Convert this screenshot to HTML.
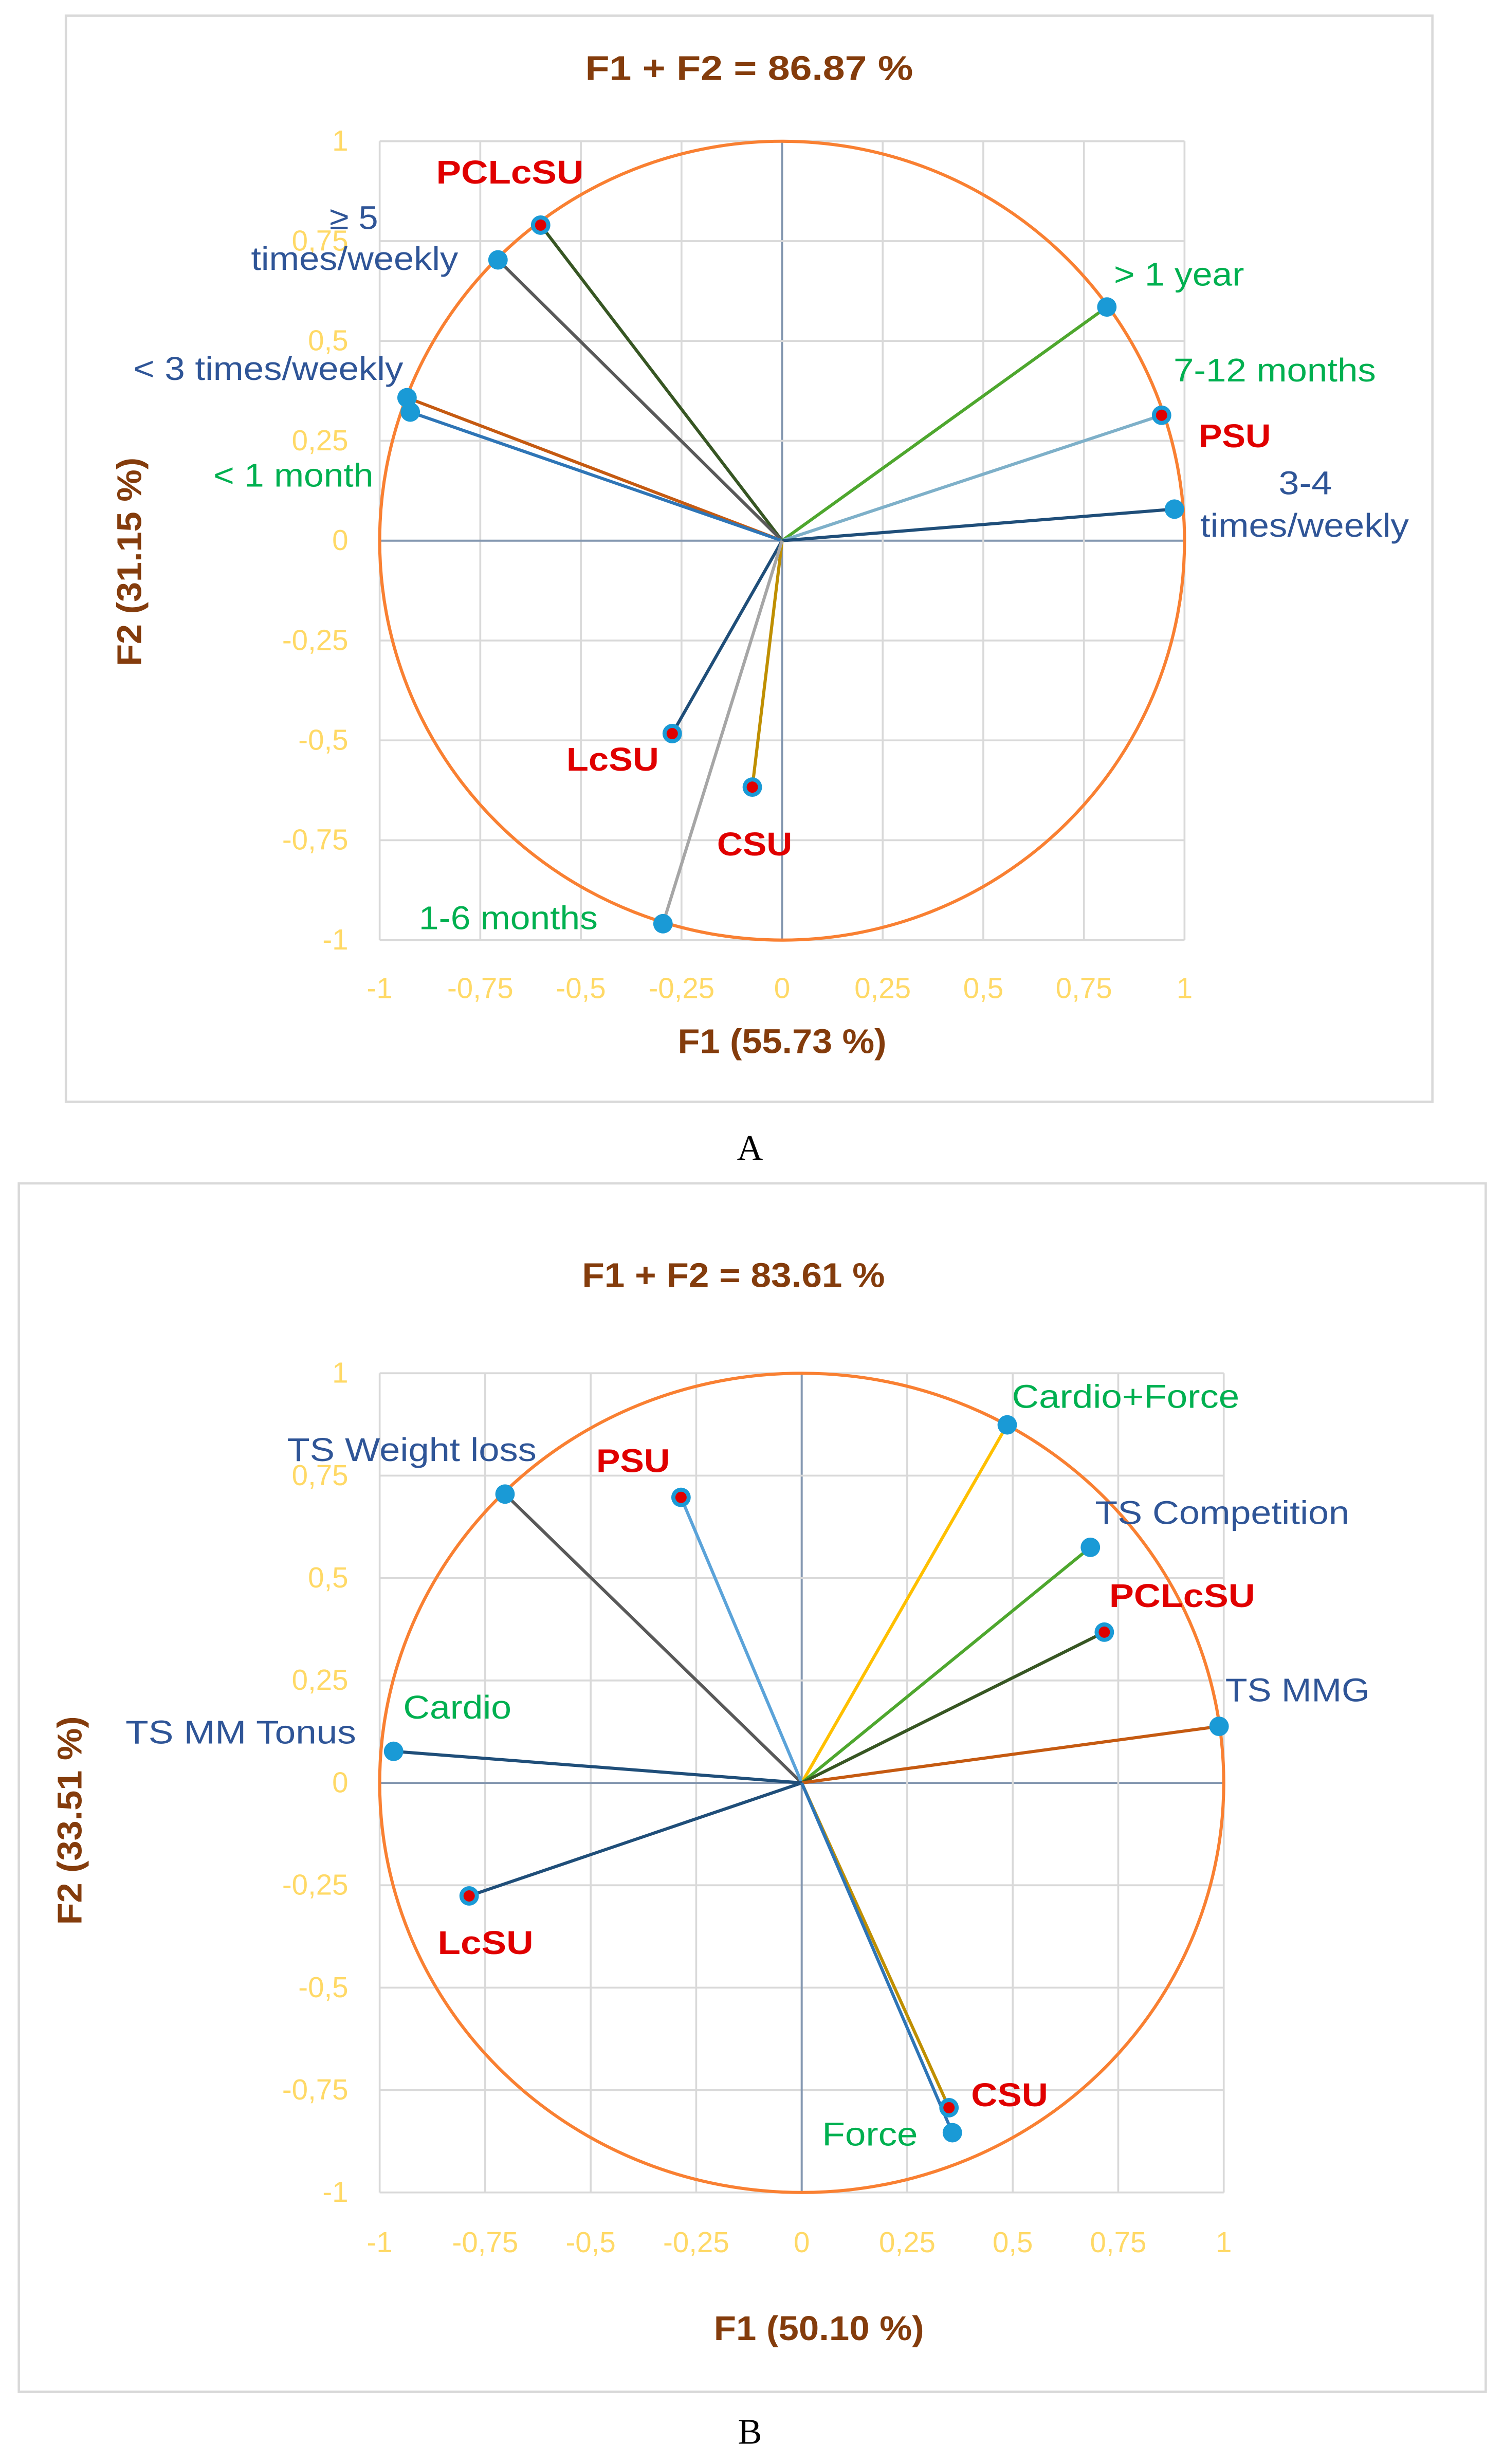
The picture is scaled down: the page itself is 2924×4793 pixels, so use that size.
<!DOCTYPE html>
<html><head><meta charset="utf-8">
<style>
html,body{margin:0;padding:0;background:#fff;}
svg{display:block;}
text{font-family:"Liberation Sans",sans-serif;}
</style></head>
<body>
<svg id="fig" width="2924" height="4793" viewBox="0 0 958 1570" preserveAspectRatio="none" xmlns="http://www.w3.org/2000/svg">
<rect x="0" y="0" width="958" height="1570" fill="#fff"/>
</svg>
<script>
// ---------- Chart A data ----------
const aNames = ["PCLcSU", "≥5 times/weekly", "<3 times/weekly", "<1 month", ">1 year", "PSU/7-12 months", "3-4 times/weekly", "LcSU", "CSU", "1-6 months"];
const aF1 = [-0.60, -0.706, -0.932, -0.924, 0.807, 0.943, 0.975, -0.273, -0.074, -0.296];
const aF2 = [0.79, 0.703, 0.358, 0.322, 0.585, 0.314, 0.079, -0.483, -0.617, -0.959];
const aRed = [1, 0, 0, 0, 0, 1, 0, 1, 1, 0];
const aLineColors = ["#375623", "#595959", "#c55a11", "#2e75b6", "#4ea72e", "#7eb0c9", "#1f4e79", "#1f4e79", "#bf8f00", "#a6a6a6"];
// ---------- Chart B data ----------
const bNames = ["Cardio+Force", "TS Weight loss", "PSU", "TS Competition", "PCLcSU", "TS MMG", "TS MM Tonus/Cardio", "LcSU", "CSU", "Force"];
const bF1 = [0.487, -0.703, -0.286, 0.684, 0.717, 0.989, -0.967, -0.788, 0.349, 0.357];
const bF2 = [0.874, 0.705, 0.697, 0.575, 0.368, 0.138, 0.077, -0.276, -0.793, -0.854];
const bRed = [0, 0, 1, 0, 1, 0, 0, 1, 1, 0];
const bLineColors = ["#ffc000", "#595959", "#5ba3d9", "#4ea72e", "#375623", "#c55a11", "#1f4e79", "#1f4e79", "#bf8f00", "#2e75b6"];
const tickVals = [-1, -0.75, -0.5, -0.25, 0, 0.25, 0.5, 0.75, 1];
const tickLabels = ["-1", "-0,75", "-0,5", "-0,25", "0", "0,25", "0,5", "0,75", "1"];

const NS = "http://www.w3.org/2000/svg";
const svg = document.getElementById("fig");
function mk(tag, attrs, parent, txt){
  const e = document.createElementNS(NS, tag);
  for (const k in attrs) e.setAttribute(k, attrs[k]);
  if (txt !== undefined) e.textContent = txt;
  (parent || svg).appendChild(e);
  return e;
}

function chart(cfg){
  const g = mk("g", {});
  
  
  const fr = mk("rect", {x:cfg.frame[0], y:cfg.frame[1], width:cfg.frame[2], height:cfg.frame[3], fill:"none", stroke:"#d9d9d9", "stroke-width":1.5}, g);
  
  
  const sx = v => cfg.x0 + (v + 1) / 2 * (cfg.x1 - cfg.x0);
  const sy = v => cfg.y1 + (1 - v) / 2 * (cfg.ym1 - cfg.y1);
  tickVals.forEach((v, i) => {
    const isZero = v === 0;
    const c = isZero ? "#8497b0" : "#d9d9d9";
    const gl = mk("line", {x1:sx(v), x2:sx(v), y1:sy(1), y2:sy(-1), stroke:c, "stroke-width":isZero?1.3:1.2}, g);
    
    
    const hl = mk("line", {x1:sx(-1), x2:sx(1), y1:sy(v), y2:sy(v), stroke:c, "stroke-width":isZero?1.3:1.2}, g);
    
    
    const yt = mk("text", {x:cfg.ytx, y:sy(v)+6, "text-anchor":"end", "font-size":18.5, fill:"#ffd966"}, g, tickLabels[i]);
    
    
    const xt = mk("text", {x:sx(v), y:cfg.xty, "text-anchor":"middle", "font-size":18.5, fill:"#ffd966"}, g, tickLabels[i]);
    
    
  });
  const ci = mk("ellipse", {cx:sx(0), cy:sy(0), rx:(sx(1)-sx(0)), ry:(sy(-1)-sy(0)), fill:"none", stroke:"#f98032", "stroke-width":2}, g);
  
  
  cfg.f1.forEach((v, i) => {
    const ln = mk("line", {x1:sx(0), y1:sy(0), x2:sx(v), y2:sy(cfg.f2[i]), stroke:cfg.colors[i], "stroke-width":2}, g);
    
    
  });
  cfg.f1.forEach((v, i) => {
    const pt = mk("circle", {cx:sx(v), cy:sy(cfg.f2[i]), r:6.2, fill:"#1a9ad6"}, g);
    
    
    if (cfg.red[i]) {
      const rc = mk("circle", {cx:sx(v), cy:sy(cfg.f2[i]), r:3.6, fill:"#e00000"}, g);
      
      
    }
  });
  cfg.labels.forEach(L => {
    const t = mk("text", {x:L[0], y:L[1], "font-size":21, fill:L[2], "font-weight":L[5]?"bold":"normal", textLength:L[4], lengthAdjust:"spacingAndGlyphs"}, g, L[3]);
    
    
  });
  const ti = mk("text", {x:cfg.title[0], y:cfg.title[1], "font-size":22, "font-weight":"bold", fill:"#843c0c", textLength:cfg.title[3], lengthAdjust:"spacingAndGlyphs"}, g, cfg.title[2]);
  
  
  const xa = mk("text", {x:cfg.xtitle[0], y:cfg.xtitle[1], "font-size":22, "font-weight":"bold", fill:"#843c0c", textLength:cfg.xtitle[3], lengthAdjust:"spacingAndGlyphs"}, g, cfg.xtitle[2]);
  
  
  const ya = mk("text", {x:0, y:0, "text-anchor":"middle", "font-size":22, "font-weight":"bold", fill:"#843c0c", textLength:133, lengthAdjust:"spacingAndGlyphs", transform:`translate(${cfg.ytitle[0]},${cfg.ytitle[1]}) rotate(-90)`}, g, cfg.ytitle[2]);
  
  
  const cap = mk("text", {x:478, y:cfg.cap[1], "text-anchor":"middle", "font-size":23, fill:"#000", style:"font-family:'Liberation Serif',serif"}, g, cfg.cap[0]);
  
  
}

const BL = "#2f5597", GR = "#00b050", RD = "#e00000";
chart({
  id:"chart-a", frame:[42,10,871,692], x0:242, x1:755, y1:90, ym1:599, ytx:222, xty:636,
  f1:aF1, f2:aF2, red:aRed, colors:aLineColors,
  title:[373,51,"F1 + F2 = 86.87 %",209], xtitle:[432,671,"F1 (55.73 %)",133], ytitle:[90,358,"F2 (31.15 %)"], cap:["A",739],
  labels:[
    [278,117,RD,"PCLcSU",94,1],[210,146,BL,"≥ 5",31],[160,172,BL,"times/weekly",132],[85,242,BL,"< 3 times/weekly",172],
    [136,310,GR,"< 1 month",102],[710,182,GR,"> 1 year",83],[748,243,GR,"7-12 months",129],[764,285,RD,"PSU",46,1],
    [815,315,BL,"3-4",34],[765,342,BL,"times/weekly",133],[361,491,RD,"LcSU",59,1],[457,545,RD,"CSU",48,1],[267,592,GR,"1-6 months",114]
  ]
});
chart({
  id:"chart-b", frame:[12,754,935,770], x0:242, x1:780, y1:875, ym1:1397, ytx:222, xty:1435,
  f1:bF1, f2:bF2, red:bRed, colors:bLineColors,
  title:[371,820,"F1 + F2 = 83.61 %",193], xtitle:[455,1491,"F1 (50.10 %)",134], ytitle:[52,1160,"F2 (33.51 %)"], cap:["B",1557],
  labels:[
    [645,897,GR,"Cardio+Force",145],[183,931,BL,"TS Weight loss",159],[380,938,RD,"PSU",47,1],[698,971,BL,"TS Competition",162],
    [707,1024,RD,"PCLcSU",93,1],[781,1084,BL,"TS MMG",92],[257,1095,GR,"Cardio",69],[80,1111,BL,"TS MM  Tonus",147],
    [279,1245,RD,"LcSU",61,1],[619,1342,RD,"CSU",49,1],[524,1367,GR,"Force",61]
  ]
});
</script>
</body></html>
